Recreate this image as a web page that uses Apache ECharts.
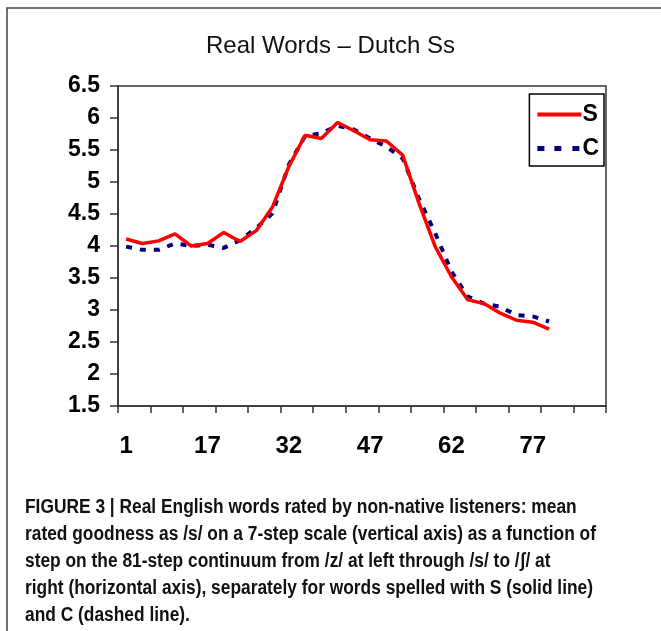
<!DOCTYPE html>
<html>
<head>
<meta charset="utf-8">
<script src="https://cdn.jsdelivr.net/npm/echarts@6/dist/echarts.min.js"></script>
<style>
html,body{margin:0;padding:0;background:#fff;}
#chart{width:661px;height:631px;}
</style>
</head>
<body>
<div id="chart"></div>
<script>
// Step categories along the 81-step continuum (only every 5th is labelled)
var steps = [1,4,7,10,14,17,20,23,26,29,32,35,38,41,44,47,50,53,56,59,62,65,68,71,74,77,80,83,86,89];
// Mean rated goodness, words spelled with S (solid line)
var sValues = [4.11,4.04,4.08,4.19,4.00,4.04,4.21,4.07,4.24,4.61,5.24,5.73,5.68,5.93,5.80,5.66,5.64,5.42,4.67,3.99,3.52,3.16,3.10,2.95,2.84,2.81,2.70];
// Mean rated goodness, words spelled with C (dashed line)
var cValues = [3.99,3.94,3.94,4.04,4.00,4.02,3.97,4.09,4.28,4.51,5.27,5.72,5.76,5.88,5.82,5.68,5.55,5.37,4.74,4.20,3.60,3.21,3.10,3.05,2.92,2.90,2.82];
var yTicks = {min: 1.5, max: 6.5, interval: 0.5};
var titleText = 'Real Words \u2013 Dutch Ss';
var captionLines = [
  'FIGURE 3 | Real English words rated by non-native listeners: mean',
  'rated goodness as /s/ on a 7-step scale (vertical axis) as a function of',
  'step on the 81-step continuum from /z/ at left through /s/ to /\u0283/ at',
  'right (horizontal axis), separately for words spelled with S (solid line)',
  'and C (dashed line).'
];

// legend sample glyphs (solid bar; three dashes)
var iconS = 'path://M0,0h0.01v0.01h-0.01z M0,5h44v4h-44z M44,14h-0.01v-0.01h0.01z';
var iconC = 'path://M0,0h0.01v0.01h-0.01z M0,4.5h7v5h-7z M17,4.5h7v5h-7z M35,4.5h7v5h-7z M44,14h-0.01v-0.01h0.01z';

var chart = echarts.init(document.getElementById('chart'), null, {renderer: 'canvas'});
var option = {
  backgroundColor: '#fff',
  animation: false,
  title: {
    text: titleText,
    left: 'center',
    top: 29,
    textStyle: {fontFamily: 'Liberation Sans', fontSize: 24, fontWeight: 'normal', color: '#111'}
  },
  grid: {
    left: 118, top: 86, right: 55, bottom: 225,
    show: true, borderColor: '#333', borderWidth: 1.5, backgroundColor: 'transparent'
  },
  legend: {
    orient: 'vertical',
    right: 57, top: 94,
    padding: [9, 5, 6, 8],
    itemWidth: 44, itemHeight: 14, itemGap: 11,
    borderColor: '#000', borderWidth: 1.5,
    textStyle: {fontFamily: 'Liberation Sans', fontSize: 23, fontWeight: 'bold', color: '#000', padding: [0,0,0,-4]},
    data: [{name: 'S', icon: iconS}, {name: 'C', icon: iconC}]
  },
  xAxis: {
    type: 'category',
    data: steps,
    boundaryGap: true,
    axisLine: {lineStyle: {color: '#333', width: 1.5}},
    axisTick: {show: true, interval: 1, length: 7, lineStyle: {color: '#333', width: 1.5}},
    axisLabel: {interval: 4, margin: 28, fontFamily: 'Liberation Sans', fontSize: 24, fontWeight: 'bold', color: '#000'},
    splitLine: {show: false}
  },
  yAxis: {
    type: 'value',
    min: yTicks.min, max: yTicks.max, interval: yTicks.interval,
    axisLine: {show: true, lineStyle: {color: '#333', width: 1.5}},
    axisTick: {show: true, length: 8, lineStyle: {color: '#333', width: 1.5}},
    axisLabel: {margin: 18, fontFamily: 'Liberation Sans', fontSize: 23, fontWeight: 'bold', color: '#000'},
    splitLine: {show: false}
  },
  series: [
    {
      name: 'S', type: 'line', data: sValues, symbol: 'none', z: 3,
      lineStyle: {color: '#ff0000', width: 3.5, type: 'solid'},
      itemStyle: {color: '#ff0000'}
    },
    {
      name: 'C', type: 'line', data: cValues, symbol: 'none', z: 2,
      lineStyle: {color: '#000080', width: 4, type: [6, 8]},
      itemStyle: {color: '#000080'}
    }
  ],
  graphic: [
    {type: 'polyline', shape: {points: [[7, 640], [7, 8], [670, 8]]}, style: {stroke: '#444', lineWidth: 1.5, fill: null}, silent: true},
    {
      type: 'text', x: 25, y: 494, scaleX: 0.89, silent: true,
      style: {
        text: captionLines.join('\n'),
        fontFamily: 'Liberation Sans', fontSize: 19.5, fontWeight: 'bold', lineHeight: 27, fill: '#111'
      }
    }
  ]
};
chart.setOption(option);
</script>
</body>
</html>
